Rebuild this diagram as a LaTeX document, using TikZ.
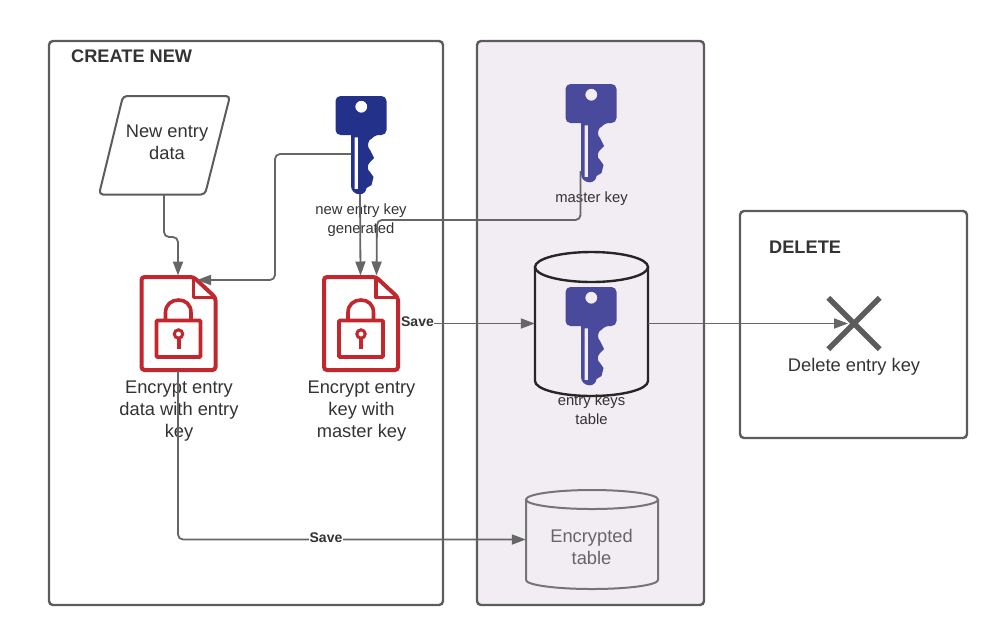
\documentclass[tikz,border=0pt]{standalone}
\usepackage{fontspec}
\setmainfont{Liberation Sans}
\usetikzlibrary{arrows.meta,shapes.misc}

\definecolor{panelline}{HTML}{5C5C5C}
\definecolor{panelfill}{HTML}{F2ECF3}
\definecolor{linkgray}{HTML}{666666}
\definecolor{textgray}{HTML}{333333}
\definecolor{docred}{HTML}{C1272D}
\definecolor{newblue}{HTML}{24318A}
\definecolor{masterblue}{HTML}{4A4A9C}

\tikzset{
  panel/.style={draw=panelline,line width=2.4pt,rounded corners=4pt,inner sep=0pt},
  link/.style={draw=linkgray,line width=1.8pt,rounded corners=5pt,-{Triangle[length=14pt,width=10pt]}},
  bigtext/.style={font=\fontsize{18.3}{22}\selectfont,text=textgray,align=center,inner sep=0pt},
  smalltext/.style={font=\fontsize{14.8}{19}\selectfont,text=textgray,align=center,inner sep=0pt},
  titletext/.style={font=\fontsize{18.2}{22}\selectfont\bfseries,text=textgray,inner sep=0pt},
  savelabel/.style={font=\fontsize{14}{16}\selectfont\bfseries,text=textgray,fill=white,inner sep=0.5pt},
  keyicon/.pic={
    \fill[pic actions,even odd rule]
      [rounded corners=5pt] (-25.5,-30) -- (-25.5,-49) -- (25.5,-49) -- (25.5,-10) -- (13,-10)
      [sharp corners] -- (11,-7) .. controls (6,-4) and (6,2) .. (9,5) -- (13,13) -- (9,17)
      .. controls (6,20) and (6,25) .. (9,27) -- (12.5,32) -- (10.5,40) -- (5.5,43)
      .. controls (5,47) and (2,49.3) .. (-1,49.3) .. controls (-6,49.3) and (-10,46) .. (-10,41)
      -- (-10,-10) [rounded corners=5pt] -- (-25.5,-10) -- cycle
      [sharp corners] (-6.5,-7.7) rectangle (-3,44)
      (0.3,-38.3) circle[radius=6];
    \coordinate (-tip) at (-1,49);
    \coordinate (-side) at (-10,9);
    \coordinate (-back) at (-10.5,38);
  },
  docicon/.pic={
    \draw[docred,line width=4pt,rounded corners=3pt]
      (-37,-46.5) -- (15,-46.5) -- (37,-26) -- (37,46.5) -- (-37,46.5) -- cycle;
    \draw[docred,line width=3.6pt,line join=round] (15,-46.5) -- (15,-26) -- (37,-26);
    \draw[docred,line width=3.6pt,rounded corners=1pt] (-22,-3) rectangle (22,33.5);
    \draw[docred,line width=3.6pt] (-13,-3) -- (-13,-11) .. controls (-13,-19) and (-7,-23.5) .. (0,-23.5)
      .. controls (7,-23.5) and (12.5,-19) .. (12.5,-11) -- (12.5,-3);
    \draw[docred,line width=3pt] (0,10.5) circle[radius=4.2];
    \fill[docred] (-2,14) rectangle (2,25);
    \coordinate (-top) at (-0.5,-48);
    \coordinate (-topb) at (15.5,-48);
    \coordinate (-fold) at (18.5,-43.5);
    \coordinate (-east) at (40,0);
    \coordinate (-south) at (-0.5,47);
  }
}

\begin{document}
\begin{tikzpicture}[x=1pt,y=-1pt]
  \useasboundingbox (0,0) rectangle (1000,638);

  % Panels
  \node[panel,minimum width=394pt,minimum height=564pt] (createpanel) at (246,323) {};
  \node[panel,fill=panelfill,minimum width=227pt,minimum height=564pt] (keypanel) at (590.5,323) {};
  \node[panel,minimum width=227pt,minimum height=227pt] (deletepanel) at (853.5,324.5) {};
  \node[titletext,anchor=west] (createtitle) at (71,56) {CREATE NEW};
  \node[titletext,anchor=west] (deletetitle) at (769,247) {DELETE};

  % New entry
  \draw[draw=panelline,line width=2pt,rounded corners=4pt]
    (123,96) -- (230,96) -- (205,194.5) -- (99,194.5) -- cycle;
  \node[minimum width=106pt,minimum height=98.5pt,inner sep=0pt] (newdata) at (164,145.25) {};
  \node[bigtext] (newdatatext) at (167,142) {New entry\\data};

  % Keys
  \pic[newblue] (newkey) at (361,145) {keyicon};
  \pic[masterblue] (masterkey) at (591,133) {keyicon};
  \node[smalltext] (newkeytext) at (361,220) {new entry key\\generated};
  \node[smalltext] (masterkeytext) at (591.5,199) {master key};

  % Encrypt documents
  \pic (docdata) at (178.5,323.5) {docicon};
  \pic (dockey) at (361,323.5) {docicon};
  \node[bigtext] (docdatatext) at (179,411) {Encrypt entry\\data with entry\\key};
  \node[bigtext] (dockeytext) at (361.5,411) {Encrypt entry\\key with\\master key};

  % Tables
  \node[minimum width=113pt,minimum height=144pt,inner sep=0pt] (keytable) at (591.5,323.5) {};
  \draw[draw=black!85,line width=2.4pt,fill=panelfill]
    (535,267) -- (535,381) .. controls (535,389.3) and (560.5,396) .. (591.5,396)
    .. controls (622.5,396) and (648,389.3) .. (648,381) -- (648,267);
  \draw[draw=black!85,line width=2.4pt,fill=panelfill] (591.5,267) ellipse[x radius=56.5,y radius=15];
  \pic[masterblue] (tablekey) at (591,336) {keyicon};
  \node[smalltext] (keytabletext) at (591.5,409.5) {entry keys\\table};
  \node[minimum width=132pt,minimum height=99pt,inner sep=0pt] (datatable) at (592,539.5) {};
  \draw[draw=linkgray!90,line width=2pt,fill=panelfill]
    (526,499.5) -- (526,580) .. controls (526,585) and (555.7,589) .. (592,589)
    .. controls (628.3,589) and (658,585) .. (658,580) -- (658,499.5);
  \draw[draw=linkgray!90,line width=2pt,fill=panelfill] (592,499.5) ellipse[x radius=66,y radius=9.5];
  \node[bigtext,text=linkgray] (datatabletext) at (591.5,547) {Encrypted\\table};

  % Delete
  \node[cross out,draw=panelline,line width=5.4pt,minimum width=46pt,minimum height=46pt,inner sep=0pt] (delmark) at (854,323.5) {};
  \coordinate (delstop) at (848,323.5);
  \node[bigtext] (deltext) at (854,367) {Delete entry key};

  % Connectors
  \draw[link] (newdata.south) |- (178,237) -- (docdata-top);
  \draw[link] (newkey-side) -| (275,280) -- (docdata-fold);
  \draw[link] (newkey-tip) -- (dockey-top);
  \draw[link] (masterkey-back) |- (377,220) -- (dockey-topb);
  \draw[link] (dockey-east) -- (keytable.west);
  \draw[link] (keytable.east) -- (delstop);
  \draw[link] (docdata-south) |- (datatable.west);

  % Save labels
  \node[savelabel] (savekey) at (417.5,322) {Save};
  \node[savelabel] (savedata) at (326,537.5) {Save};
\end{tikzpicture}
\end{document}
